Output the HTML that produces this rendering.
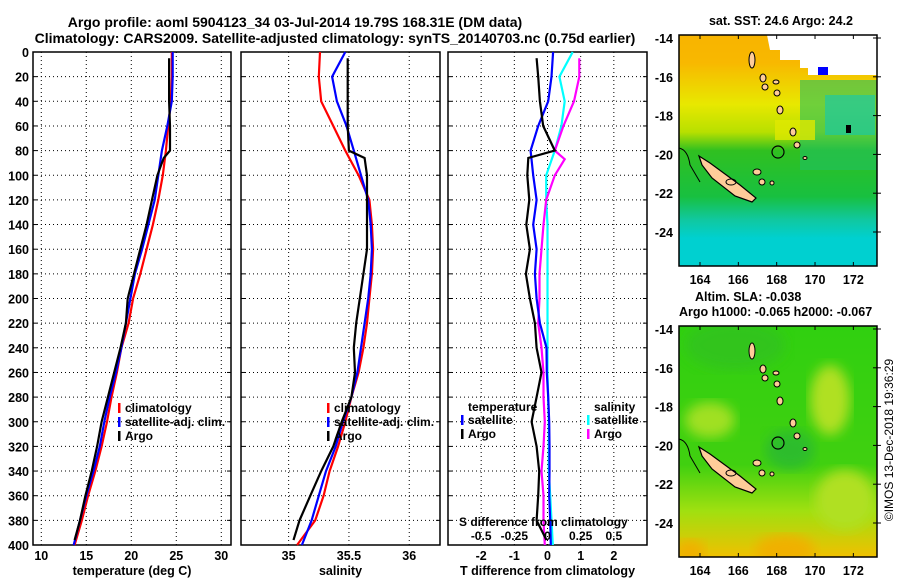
<!DOCTYPE html>
<html><head><meta charset="utf-8"><title>Argo profile</title>
<style>
html,body{margin:0;padding:0;background:#fff;}
svg{display:block;font-family:"Liberation Sans",sans-serif;font-weight:bold;}
</style></head>
<body>
<svg id="fig" width="900" height="580" viewBox="0 0 900 580" xmlns="http://www.w3.org/2000/svg">
<defs>
<linearGradient id="sstg" x1="0" y1="0" x2="0" y2="1">
<stop offset="0" stop-color="#f8b400"/><stop offset="0.12" stop-color="#f8b800"/>
<stop offset="0.3" stop-color="#e8e800"/><stop offset="0.42" stop-color="#b8e000"/>
<stop offset="0.5" stop-color="#30c020"/><stop offset="0.7" stop-color="#18c040"/>
<stop offset="0.8" stop-color="#10c8a0"/><stop offset="0.88" stop-color="#00d0d0"/><stop offset="1" stop-color="#00d0d0"/>
</linearGradient>
<linearGradient id="slag" x1="0" y1="0" x2="0" y2="1">
<stop offset="0" stop-color="#30d010"/><stop offset="0.6" stop-color="#40d010"/>
<stop offset="0.8" stop-color="#a0e010"/><stop offset="1" stop-color="#f0c000"/>
</linearGradient>
<filter id="blur"><feGaussianBlur stdDeviation="6"/></filter>
<clipPath id="m1c"><rect x="679" y="35" width="198" height="231"/></clipPath>
<clipPath id="m2c"><rect x="679" y="326" width="198" height="231"/></clipPath>
</defs>
<text x="295" y="27" font-size="14" text-anchor="middle">Argo profile: aoml 5904123_34 03-Jul-2014 19.79S 168.31E (DM data)</text>
<text x="335" y="43" font-size="14" text-anchor="middle">Climatology: CARS2009. Satellite-adjusted climatology: synTS_20140703.nc (0.75d earlier)</text>
<g id="panels"></g>
<g id="maps"></g>
<text transform="translate(893,440) rotate(-90)" font-size="12" font-weight="normal" text-anchor="middle">©IMOS 13-Dec-2018 19:36:29</text>
</svg>
<script>
const depths = [0,20,40,60,80,100,120,140,160,180,200,220,240,260,280,300,320,340,360,380,400];
const tClim = [24.5,24.5,24.4,24.1,23.85,23.5,23.0,22.4,21.7,21.0,20.2,19.7,18.9,18.4,17.8,17.3,16.7,16.0,15.2,14.5,13.7];
const tSat = [24.6,24.6,24.5,24.0,23.4,23.0,22.6,21.9,21.2,20.4,19.9,19.4,18.9,18.3,17.6,17.0,16.5,15.8,15.0,14.3,13.6];
const argoDepths = [5,20,40,60,80,86,100,120,140,160,180,200,220,240,260,280,300,320,340,360,380,396];
const tArgo = [24.2,24.2,24.2,24.3,24.3,23.6,22.9,22.3,21.7,21.0,20.3,19.6,19.4,18.8,18.1,17.4,16.7,16.2,15.6,14.9,14.3,13.7];
const sClim = [35.26,35.25,35.27,35.37,35.47,35.58,35.67,35.69,35.70,35.69,35.67,35.65,35.62,35.58,35.52,35.47,35.41,35.34,35.29,35.22,35.07];
const sSat = [35.47,35.36,35.40,35.48,35.54,35.60,35.66,35.68,35.69,35.68,35.66,35.63,35.60,35.57,35.52,35.45,35.39,35.31,35.25,35.19,35.11];
const sArgo = [35.49,35.49,35.49,35.49,35.50,35.63,35.65,35.65,35.65,35.65,35.62,35.59,35.56,35.54,35.55,35.52,35.44,35.37,35.27,35.18,35.09,35.04];
const dTSat = [0.17,0.12,0.02,-0.28,-0.51,-0.43,-0.33,-0.43,-0.33,-0.38,-0.33,-0.23,-0.03,-0.02,0.02,0.05,0.06,0.06,0.05,0.08,0.1];
const dTArgo = [-0.33,-0.28,-0.23,-0.13,0.22,-0.58,-0.61,-0.55,-0.64,-0.53,-0.65,-0.53,-0.38,-0.33,-0.18,-0.33,-0.48,-0.33,-0.25,-0.28,-0.33,-0.03];
const dSSat = [0.19,0.09,0.13,0.105,0.055,-0.01,-0.01,0,0,0,0,0,0,0,0.005,0.01,0.01,0.01,0.02,0.03,0.04];
const dSArgoDepths = [5,20,40,60,80,87,100,120,140,160,180,200,220,240,260,280,300,320,340,360,380,400];
const dSArgo = [0.24,0.24,0.2,0.12,0.055,0.13,0.055,-0.01,-0.03,-0.045,-0.06,-0.06,-0.07,-0.045,-0.03,-0.03,-0.02,-0.03,-0.045,-0.03,-0.03,-0.02];
const depthTicks = [0,20,40,60,80,100,120,140,160,180,200,220,240,260,280,300,320,340,360,380,400];
const tTicks = [10,15,20,25,30];
const sTicks = [35,35.5,36];
const dTTicks = [-2,-1,0,1,2];
const dSTickLabels = ['-0.5','-0.25','0','0.25','0.5'];
const dSTicks = [-0.5,-0.25,0,0.25,0.5];

const NS='http://www.w3.org/2000/svg';
const TOP=52, BOT=545;
const FS=12.5;
const yD = d => TOP + (BOT-TOP)*d/400;
function mk(tag, attrs, parent){const e=document.createElementNS(NS,tag);for(const k in attrs)e.setAttribute(k,attrs[k]);parent.appendChild(e);return e;}
const root=document.getElementById('panels');

function panel(name,x0,x1,xmin,xmax,ticks,tickLabels,xlabel,showY){
  const g=mk('g',{},root);
  
  
  const xs=v=>x0+(x1-x0)*(v-xmin)/(xmax-xmin);
  depthTicks.forEach(d=>{
    if(d>0&&d<400){const l=mk('line',{x1:x0,x2:x1,y1:yD(d),y2:yD(d),stroke:'#000','stroke-width':1,'stroke-dasharray':'1,3'},g);
    
    }
    mk('line',{x1:x1-4,x2:x1,y1:yD(d),y2:yD(d),stroke:'#000'},g);
    mk('line',{x1:x0,x2:x0+4,y1:yD(d),y2:yD(d),stroke:'#000'},g);
    if(showY){const t=mk('text',{x:x0-4,y:yD(d)+5,'font-size':FS,'text-anchor':'end'},g);t.textContent=d;
    
    }
  });
  ticks.forEach((v,i)=>{
    const l=mk('line',{x1:xs(v),x2:xs(v),y1:TOP,y2:BOT,stroke:'#000','stroke-dasharray':'1,3'},g);
    
    
    const t=mk('text',{x:xs(v),y:560,'font-size':FS,'text-anchor':'middle'},g);t.textContent=tickLabels[i];
    
    
  });
  const f=mk('rect',{x:x0,y:TOP,width:x1-x0,height:BOT-TOP,fill:'none',stroke:'#000','stroke-width':1.5},g);
  
  
  const xl=mk('text',{x:(x0+x1)/2,y:575,'font-size':FS,'text-anchor':'middle'},g);xl.textContent=xlabel;
  
  
  return {g,xs};
}
function line(p,ds,vals,color,name,scale){
  const pts=vals.map((v,i)=>p.xs(v*(scale||1)).toFixed(1)+','+yD(ds[i]).toFixed(1)).join(' ');
  const l=mk('polyline',{points:pts,fill:'none',stroke:color,'stroke-width':2.2},p.g);
  
  
}
function legend(g,x,y,items){
  items.forEach((it,i)=>{
    mk('rect',{x:x,y:y+i*14-9,width:2.5,height:10,fill:it[1]},g);
    const t=mk('text',{x:x+7,y:y+i*14,'font-size':12},g);t.textContent=it[0];
    
    
  });
}
const p1=panel('temperature-panel',33,231,9.08,31.08,tTicks,tTicks.map(String),'temperature (deg C)',true);
line(p1,depths,tClim,'#f00','climatology-temperature-line');
line(p1,depths,tSat,'#00f','satellite-temperature-line');
line(p1,argoDepths,tArgo,'#000','argo-temperature-line');
legend(p1.g,118,412,[['climatology','#f00'],['satellite-adj. clim.','#00f'],['Argo','#000']]);

const p2=panel('salinity-panel',241,440,34.605,36.255,sTicks,['35','35.5','36'],'salinity',false);
line(p2,depths,sClim,'#f00','climatology-salinity-line');
line(p2,depths,sSat,'#00f','satellite-salinity-line');
line(p2,argoDepths,sArgo,'#000','argo-salinity-line');
legend(p2.g,327,412,[['climatology','#f00'],['satellite-adj. clim.','#00f'],['Argo','#000']]);

const p3=panel('difference-panel',448,647,-3,3,dTTicks,dTTicks.map(String),'T difference from climatology',false);
line(p3,depths,dSSat,'#00ffff','satellite-salinity-diff-line',4);
line(p3,dSArgoDepths,dSArgo,'#ff00ff','argo-salinity-diff-line',4);
line(p3,depths,dTSat,'#00f','satellite-temperature-diff-line');
line(p3,argoDepths,dTArgo,'#000','argo-temperature-diff-line');
(function(){
  const t=mk('text',{x:468,y:411,'font-size':12},p3.g);t.textContent='temperature';
  
  
  const s=mk('text',{x:594,y:411,'font-size':12},p3.g);s.textContent='salinity';
  
  
  legend(p3.g,461,424,[['satellite','#00f'],['Argo','#000']]);
  legend(p3.g,587,424,[['satellite','#00ffff'],['Argo','#ff00ff']]);
  const st=mk('text',{x:459,y:526,'font-size':12},p3.g);st.textContent='S difference from climatology';
  
  
  dSTicks.forEach((v,i)=>{const tt=mk('text',{x:p3.xs(v*4),y:540,'font-size':12,'text-anchor':'middle'},p3.g);tt.textContent=dSTickLabels[i];
  
  });
})();

// maps
const mg=document.getElementById('maps');
const lonTicks=[164,166,168,170,172];
const latTicks=[-14,-16,-18,-20,-22,-24];
function drawMap(name,top,grad,title){
  const g=mk('g',{},mg);
  
  
  const L=679,R=877,B=top+231;
  const lx=lon=>700+(lon-164)*19.17;
  const ly=lat=>top+3+(-14-lat)*19.4;
  const c=mk('g',{'clip-path':'url(#'+(top<100?'m1c':'m2c')+')'},g);
  mk('rect',{x:L,y:top,width:R-L,height:B-top,fill:'url(#'+grad+')'},c);
  if(top<100){
    mk('rect',{x:800,y:80,width:78,height:90,fill:'#20c060',opacity:0.6},c);
    mk('rect',{x:825,y:95,width:50,height:40,fill:'#10c8b0',opacity:0.6},c);
    mk('rect',{x:775,y:120,width:40,height:20,fill:'#e0e800',opacity:0.8},c);
    mk('polygon',{points:'767,35 877,35 877,75 808,75 808,68 800,68 800,60 780,60 780,50 770,50',fill:'#fff'},c);
    mk('rect',{x:818,y:67,width:10,height:8,fill:'#00f'},c);
    mk('rect',{x:846,y:125,width:5,height:8,fill:'#000'},c);
  } else {
    mk('ellipse',{cx:735,cy:345,rx:50,ry:25,fill:'#30c020',opacity:0.7,filter:'url(#blur)'},c);
    mk('ellipse',{cx:830,cy:400,rx:20,ry:35,fill:'#b0e020',filter:'url(#blur)'},c);
    mk('ellipse',{cx:845,cy:500,rx:30,ry:30,fill:'#b0e020',filter:'url(#blur)'},c);
    mk('ellipse',{cx:710,cy:420,rx:25,ry:18,fill:'#a0e020',filter:'url(#blur)'},c);
    mk('ellipse',{cx:790,cy:450,rx:25,ry:20,fill:'#20b040',opacity:0.6,filter:'url(#blur)'},c);
    mk('ellipse',{cx:785,cy:550,rx:30,ry:15,fill:'#f0b000',filter:'url(#blur)'},c);
    mk('ellipse',{cx:690,cy:552,rx:15,ry:12,fill:'#f0b000',filter:'url(#blur)'},c);
  }
  const off=top-35;
  const isl=[[752,60,3,8],[763,78,3,4],[765,87,3,3],[776,82,3,2],[777,93,3,3],[780,110,3,4],[793,132,3,4],[797,145,3,3],[805,158,2,1.5],[757,172,4,3],[762,182,3,3],[772,183,2,2]];
  isl.forEach(s=>{const e=mk('ellipse',{cx:s[0],cy:s[1]+off,rx:s[2],ry:s[3],fill:'#ffcc99',stroke:'#000','stroke-width':1},c);
    
    });
  const nc=mk('polygon',{points:[[699,156],[710,163],[740,185],[756,198],[752,202],[735,196],[712,178],[702,165]].map(p=>p[0]+','+(p[1]+off)).join(' '),fill:'#ffcc99',stroke:'#000','stroke-width':1.2},c);
  
  
  mk('path',{d:`M679 ${148+off} Q688 ${150+off} 690 ${165+off} L700 ${182+off}`,fill:'none',stroke:'#000','stroke-width':1},c);
  mk('ellipse',{cx:731,cy:182+off,rx:5,ry:3,fill:'none',stroke:'#000'},c);
  const ac=mk('circle',{cx:778,cy:152+off,r:6,fill:'none',stroke:'#000','stroke-width':1.2},c);
  
  
  const fr=mk('rect',{x:L,y:top,width:R-L,height:B-top,fill:'none',stroke:'#000','stroke-width':1.5},g);
  
  
  lonTicks.forEach(v=>{mk('line',{x1:lx(v),x2:lx(v),y1:top,y2:top+4,stroke:'#000'},g);mk('line',{x1:lx(v),x2:lx(v),y1:B-4,y2:B,stroke:'#000'},g);
    const t=mk('text',{x:lx(v),y:B+18,'font-size':FS,'text-anchor':'middle'},g);t.textContent=v;
    
    });
  latTicks.forEach(v=>{mk('line',{x1:R-4,x2:R,y1:ly(v),y2:ly(v),stroke:'#000'},g);mk('line',{x1:R,x2:R+4,y1:ly(v),y2:ly(v),stroke:'#000'},g);
    const t=mk('text',{x:673,y:ly(v)+5,'font-size':FS,'text-anchor':'end'},g);t.textContent=v;
    
    });
  title.forEach(tt=>{const t=mk('text',{x:tt[0],y:tt[1],'font-size':12.5,'text-anchor':tt[3]||'start'},g);t.textContent=tt[2];
    
    });
}
drawMap('sst-map',35,'sstg',[[781,25,'sat. SST: 24.6 Argo: 24.2','middle']]);
drawMap('sla-map',326,'slag',[[695,301,'Altim. SLA: -0.038'],[679,316,'Argo h1000: -0.065 h2000: -0.067']]);
</script>
</body></html>
